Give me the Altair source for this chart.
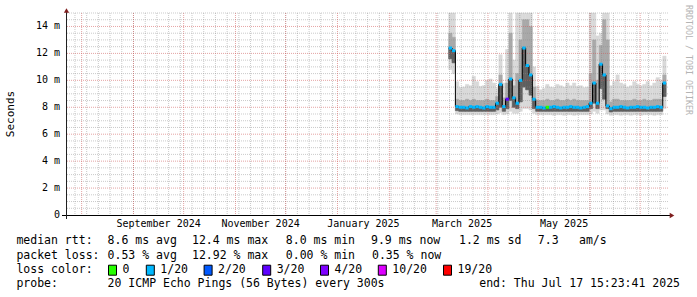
import altair as alt
import pandas as pd
import numpy as np

# ---------------- data ----------------
RANGE_START = "2024-07-22 15:23:41"
RANGE_END = "2025-07-17 15:23:41"
FIRST_BIN = "2025-03-08 12:00:00"
BIN_DAYS = 2

# median rtt per 2-day bin (ms)
median_ms = [12.4, 12.2, 8.05, 8.0, 8.0, 7.95, 8.05, 8.0, 8.05, 8.0,
             7.95, 8.05, 8.0, 8.0, 8.3, 9.7, 8.05, 8.6, 10.1, 8.7,
             8.3, 10.0, 12.4, 11.1, 10.4, 8.6, 8.0, 8.0, 7.95, 8.0,
             8.0, 8.05, 8.0, 7.95, 8.0, 8.0, 8.05, 8.0, 8.0, 7.95,
             8.0, 8.05, 8.3, 9.8, 8.3, 11.2, 10.4, 8.1, 7.9, 8.0,
             8.0, 8.05, 8.0, 7.95, 8.0, 8.0, 8.05, 8.0, 8.0, 7.95,
             8.0, 8.0, 8.05, 8.0, 9.8]
# smoke: lowest ping, lower quartile, upper quartile, highest ping (ms)
smoke_lo = [10.8, 10.5, 7.5, 7.45, 7.45, 7.45, 7.45, 7.45, 7.45, 7.45,
            7.45, 7.45, 7.45, 7.45, 7.5, 7.6, 7.45, 7.5, 7.7, 7.55,
            7.55, 7.7, 7.9, 7.9, 7.8, 7.55, 7.45, 7.45, 7.45, 7.45,
            7.45, 7.4, 7.45, 7.45, 7.4, 7.45, 7.45, 7.4, 7.45, 7.45,
            7.45, 7.45, 7.5, 7.7, 7.55, 7.8, 7.8, 7.5, 7.4, 7.45,
            7.45, 7.4, 7.45, 7.45, 7.4, 7.45, 7.45, 7.4, 7.45, 7.45,
            7.45, 7.4, 7.45, 7.45, 7.9]
smoke_q1 = [11.6, 11.3, 7.75, 7.7, 7.7, 7.7, 7.7, 7.7, 7.7, 7.7,
            7.7, 7.7, 7.7, 7.7, 7.8, 8.0, 7.7, 7.9, 8.5, 8.0,
            7.9, 8.4, 9.5, 9.3, 8.9, 7.9, 7.7, 7.7, 7.7, 7.7,
            7.7, 7.7, 7.7, 7.7, 7.7, 7.7, 7.7, 7.7, 7.7, 7.7,
            7.7, 7.7, 7.9, 8.3, 7.9, 9.4, 8.6, 7.9, 7.65, 7.7,
            7.7, 7.7, 7.7, 7.7, 7.7, 7.7, 7.7, 7.7, 7.7, 7.7,
            7.7, 7.7, 7.7, 7.7, 8.8]
smoke_q3 = [13.5, 13.2, 8.6, 8.5, 8.5, 8.6, 8.5, 8.6, 8.5, 8.5,
            8.5, 8.6, 8.5, 8.5, 8.8, 10.4, 8.7, 9.8, 13.5, 9.6,
            10.5, 13.0, 14.5, 14.5, 14.0, 9.5, 8.5, 8.5, 8.5, 8.6,
            8.5, 8.5, 8.6, 8.5, 8.5, 8.6, 8.5, 8.6, 8.5, 8.5,
            8.5, 8.5, 10.5, 13.0, 10.0, 12.6, 14.5, 13.0, 8.4, 8.6,
            8.6, 8.5, 8.5, 8.5, 8.5, 8.6, 8.5, 8.5, 8.6, 8.5,
            8.5, 8.6, 8.6, 8.6, 10.4]
smoke_hi = [15.0, 15.0, 9.9, 9.45, 9.5, 9.7, 9.6, 10.3, 9.9, 9.55,
            9.6, 10.0, 10.1, 9.8, 9.4, 11.9, 9.8, 12.3, 15.0, 11.5,
            15.0, 15.0, 15.0, 15.0, 15.0, 11.0, 9.55, 9.3, 9.4, 9.7,
            9.5, 9.45, 9.7, 9.6, 9.5, 9.8, 9.6, 9.8, 9.55, 9.6,
            9.45, 9.5, 15.0, 15.0, 13.3, 13.5, 15.0, 15.0, 9.6, 9.9,
            10.4, 9.8, 9.7, 9.5, 9.6, 9.9, 9.7, 9.6, 9.7, 9.9,
            9.6, 9.8, 10.2, 10.0, 11.8]
# loss class per bin (index into loss_labels)
loss_idx = [1, 1, 1, 1, 1, 1, 1, 1, 1, 1,
            1, 1, 1, 1, 1, 1, 1, 3, 1, 1,
            1, 1, 1, 1, 1, 1, 1, 1, 1, 0,
            1, 1, 1, 1, 1, 1, 1, 1, 1, 1,
            1, 1, 1, 1, 1, 1, 1, 1, 1, 1,
            1, 1, 1, 1, 1, 1, 1, 1, 1, 1,
            1, 1, 1, 1, 1]

loss_labels = ["0", "1/20", "2/20", "3/20", "4/20", "10/20", "19/20"]
loss_colors = ["#26ff00", "#00b8ff", "#0059ff", "#5e00ff", "#7e00ff", "#dd00ff", "#ff0000"]

x_label_months = ["2024-09-01", "2024-11-01", "2025-01-01", "2025-03-01", "2025-05-01"]
x_label_text = ["September 2024", "November 2024", "January 2025", "March 2025", "May 2025"]
y_tick_values = [0, 2, 4, 6, 8, 10, 12, 14]
y_tick_text = ["0", "2 m", "4 m", "6 m", "8 m", "10 m", "12 m", "14 m"]

legend_line1 = ["median rtt:", "8.6 ms avg", "12.4 ms max", "8.0 ms min", "9.9 ms now",
                "1.2 ms sd", "7.3", "am/s"]
legend_line2 = ["packet loss:", "0.53 % avg", "12.92 % max", "0.00 % min", "0.35 % now"]
legend_line3 = "loss color:"
legend_line4 = ["probe:", "20 ICMP Echo Pings (56 Bytes) every 300s"]
legend_end = "end: Thu Jul 17 15:23:41 2025"
watermark = "RRDTOOL / TOBI OETIKER"
y_title = "Seconds"

# ---------------- layout (pixels) ----------------
W, H = 602, 202
PAD_L, PAD_T = 66, 13
MONO = "DejaVu Sans Mono"
line1_x = [16.4, 107.6, 192, 285.8, 371, 459, 537.8, 579]
line2_x = [16.4, 107.6, 192, 285.8, 372]
line4_x = [16.4, 107.6]
box_x = [108, 145.8, 203.6, 262.2, 320, 377.8, 443]
line_y = [241, 255.5, 269.7, 284]

DAY = pd.Timedelta(days=1)
t0 = pd.Timestamp(RANGE_START)
span = (pd.Timestamp(RANGE_END) - t0) / DAY

n = len(median_ms)
starts = pd.Timestamp(FIRST_BIN) + pd.to_timedelta(np.arange(n) * BIN_DAYS, unit="D")
x0 = (starts - t0) / DAY
bins = pd.DataFrame({
    "x0": np.asarray(x0, dtype=float),
    "x1": np.asarray(x0, dtype=float) + BIN_DAYS,
    "med": median_ms, "lo": smoke_lo, "q1": smoke_q1, "q3": smoke_q3, "hi": smoke_hi,
    "loss": [loss_labels[i] for i in loss_idx],
})
line_df = pd.DataFrame({
    "x": list(bins["x0"]) + [bins["x1"].iloc[-1]],
    "med": median_ms + [median_ms[-1]],
})

xs = alt.Scale(domain=[0, span], nice=False, zero=False)
ys = alt.Scale(domain=[0, 15], nice=False, zero=False)

months = pd.date_range("2024-08-01", "2025-07-01", freq="MS")
weeks = pd.date_range("2024-07-28", "2025-07-13", freq="W-SUN")
major_x = pd.DataFrame({"x": (months - t0) / DAY})
minor_x = pd.DataFrame({"x": (weeks - t0) / DAY})
minor_y = pd.DataFrame({"v": [k / 2 for k in range(1, 31) if k % 4 != 0]})
major_y = pd.DataFrame({"v": [v for v in y_tick_values if v > 0]})

lab_start = pd.to_datetime(x_label_months)
lab_center = lab_start + (lab_start + pd.offsets.MonthBegin(1) - lab_start) / 2
xlab_df = pd.DataFrame({"c": (lab_center - t0) / DAY, "t": x_label_text})
ylab_df = pd.DataFrame({"v": y_tick_values, "t": y_tick_text})

layers = []

# smoke
for lo, hi, col in [("lo", "hi", "#d9d9d9"), ("q1", "q3", "#a9a9a9"), ("q1", "med", "#5f5f5f")]:
    layers.append(
        alt.Chart(bins).mark_rect(color=col, stroke=col, strokeWidth=0.5).encode(
            x=alt.X("x0:Q", scale=xs, axis=None), x2="x1:Q",
            y=alt.Y(f"{lo}:Q", scale=ys, axis=None), y2=f"{hi}:Q")
    )

# grid
layers.append(alt.Chart(minor_y).mark_rule(color="#8a8a8a", opacity=0.45, strokeDash=[1, 1]).encode(
    y=alt.Y("v:Q", scale=ys, axis=None)))
layers.append(alt.Chart(minor_x).mark_rule(color="#8a8a8a", opacity=0.45, strokeDash=[1, 1]).encode(
    x=alt.X("x:Q", scale=xs, axis=None)))
layers.append(alt.Chart(major_y).mark_rule(color="#d05a5a", opacity=0.55, strokeDash=[1, 1]).encode(
    y=alt.Y("v:Q", scale=ys, axis=None)))
layers.append(alt.Chart(major_x).mark_rule(color="#d05a5a", opacity=0.55, strokeDash=[1, 1]).encode(
    x=alt.X("x:Q", scale=xs, axis=None)))

# median line and loss colour segments
layers.append(alt.Chart(line_df).mark_line(interpolate="step-after", color="black", strokeWidth=1).encode(
    x=alt.X("x:Q", scale=xs, axis=None), y=alt.Y("med:Q", scale=ys, axis=None)))
layers.append(alt.Chart(bins).mark_rule(strokeWidth=3).encode(
    x=alt.X("x0:Q", scale=xs, axis=None), x2="x1:Q",
    y=alt.Y("med:Q", scale=ys, axis=None),
    color=alt.Color("loss:N", scale=alt.Scale(domain=loss_labels, range=loss_colors), legend=None)))

one = alt.Data(values=[{}])

# axes lines and arrows
layers.append(alt.Chart(one).mark_rule(color="black").encode(
    x=alt.value(-4), x2=alt.value(W + 2), y=alt.value(H + 0.5)))
layers.append(alt.Chart(one).mark_rule(color="#202020").encode(
    x=alt.value(0.5), y=alt.value(H + 4), y2=alt.value(-3)))
layers.append(alt.Chart(one).mark_point(shape="triangle-up", filled=True, size=28, color="#7f1f1f", opacity=1).encode(
    x=alt.value(0.5), y=alt.value(-2.5)))
layers.append(alt.Chart(one).mark_point(shape="triangle-right", filled=True, size=28, color="#7f1f1f", opacity=1).encode(
    x=alt.value(W + 4), y=alt.value(H + 0.5)))

# axis labels
layers.append(alt.Chart(xlab_df).mark_text(font=MONO, fontSize=10, align="center", baseline="middle", color="black").encode(
    x=alt.X("c:Q", scale=xs, axis=None), y=alt.value(224 - PAD_T), text="t:N"))
layers.append(alt.Chart(ylab_df).mark_text(font=MONO, fontSize=10, align="right", baseline="middle", color="black").encode(
    y=alt.Y("v:Q", scale=ys, axis=None), x=alt.value(60 - PAD_L), text="t:N"))
layers.append(alt.Chart(one).mark_text(font=MONO, fontSize=11, angle=270, align="center", baseline="middle", color="black").encode(
    x=alt.value(11 - PAD_L), y=alt.value(114 - PAD_T), text=alt.value(y_title)))
layers.append(alt.Chart(one).mark_text(font=MONO, fontSize=8.3, angle=90, align="center", baseline="middle", color="#b4b4b4").encode(
    x=alt.value(688 - PAD_L), y=alt.value(60 - PAD_T), text=alt.value(watermark)))


def txt(s, ax, ay, align="left"):
    return alt.Chart(one).mark_text(font=MONO, fontSize=11.5, align=align, baseline="middle", color="black").encode(
        x=alt.value(ax - PAD_L), y=alt.value(ay - PAD_T), text=alt.value(s))


for s, ax in zip(legend_line1, line1_x):
    layers.append(txt(s, ax, line_y[0]))
for s, ax in zip(legend_line2, line2_x):
    layers.append(txt(s, ax, line_y[1]))
layers.append(txt(legend_line3, 16.4, line_y[2]))
for lab, col, bx in zip(loss_labels, loss_colors, box_x):
    layers.append(alt.Chart(one).mark_rect(fill=col, stroke="black", strokeWidth=1).encode(
        x=alt.value(bx - PAD_L + 0.5), x2=alt.value(bx - PAD_L + 8.5),
        y=alt.value(line_y[2] - 5 - PAD_T + 0.5), y2=alt.value(line_y[2] + 5 - PAD_T + 0.5)))
    layers.append(txt(lab, bx + 14.5, line_y[2]))
for s, ax in zip(legend_line4, line4_x):
    layers.append(txt(s, ax, line_y[3]))
layers.append(txt(legend_end, 680, line_y[3], align="right"))

chart = alt.layer(*layers).properties(
    width=W, height=H,
    padding={"left": PAD_L, "top": PAD_T, "right": 697 - PAD_L - W, "bottom": 297 - PAD_T - H},
    autosize=alt.AutoSizeParams(type="none"),
    background="white",
).configure_view(stroke=None)

chart.save("out.html", embed_options={"renderer": "svg", "actions": False})
